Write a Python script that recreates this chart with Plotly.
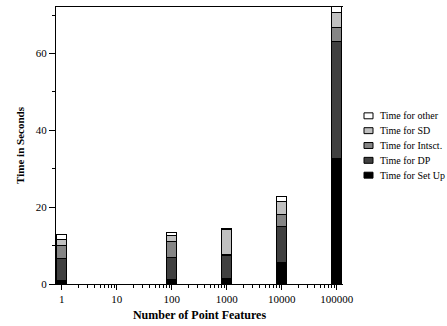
import numpy as np
import plotly.graph_objects as go

# ---- data ----
point_features = [1, 100, 1000, 10000, 100000]
time_setup = [1.0, 1.1, 1.5, 5.7, 32.7]
time_dp = [5.7, 5.8, 6.0, 9.2, 30.4]
time_intsct = [3.3, 4.2, 0.1, 3.2, 3.6]
time_sd = [1.5, 1.5, 6.6, 3.3, 4.0]
time_other = [1.5, 0.7, 0.2, 1.3, 1.5]

series_names = ["Time for Set Up", "Time for DP", "Time for Intsct.", "Time for SD", "Time for other"]
series_values = [time_setup, time_dp, time_intsct, time_sd, time_other]
series_colors = ["#000000", "#404040", "#858585", "#c0c0c0", "#ffffff"]

x_tick_vals = [0, 1, 2, 3, 4, 5]
x_tick_text = ["1", "10", "100", "1000", "10000", "100000"]
y_tick_vals = [0, 20, 40, 60]
y_minor_vals = [10, 30, 50, 70]

FONT = "Liberation Serif"

xpos = np.log10(point_features)

fig = go.Figure()
for name, vals, col in zip(series_names, series_values, series_colors):
    fig.add_trace(go.Bar(
        x=xpos, y=vals, name=name, width=0.182,
        marker=dict(color=col, line=dict(color="#000000", width=1)),
        showlegend=False,
    ))

minor_x = [k + np.log10(m) for k in range(0, 6) for m in range(2, 10) if k + np.log10(m) < 5.11]

W, H = 447, 326
ml, mr, mt, mb = 56, 104, 6, 40
pw, ph = W - ml - mr, H - mt - mb

fig.update_layout(
    width=W, height=H,
    margin=dict(l=ml, r=mr, t=mt, b=mb),
    barmode="stack",
    plot_bgcolor="white", paper_bgcolor="white",
    font=dict(family=FONT, size=11, color="#000"),
    xaxis=dict(
        range=[-0.104, 5.115],
        tickmode="array", tickvals=x_tick_vals, ticktext=x_tick_text,
        ticks="outside", ticklen=5, tickwidth=1, tickcolor="#000",
        showline=True, linecolor="#000", linewidth=1, mirror=True,
        showgrid=False, zeroline=False,
        minor=dict(tickmode="array", tickvals=minor_x, ticks="outside", ticklen=3,
                   tickwidth=1, tickcolor="#000", showgrid=False),
        title=dict(text="<b>Number of Point Features</b>", font=dict(size=12, family=FONT), standoff=6),
        tickfont=dict(size=11, family=FONT),
    ),
    yaxis=dict(
        range=[0, 72.1],
        tickmode="array", tickvals=y_tick_vals,
        ticks="outside", ticklen=6, tickwidth=1, tickcolor="#000",
        showline=True, linecolor="#000", linewidth=1,
        showgrid=False, zeroline=False,
        minor=dict(tickmode="array", tickvals=y_minor_vals, ticks="outside", ticklen=3,
                   tickwidth=1, tickcolor="#000", showgrid=False),
        title=dict(text="<b>Time in Seconds</b>", font=dict(size=11, family=FONT), standoff=8),
        tickfont=dict(size=11, family=FONT),
    ),
)

# custom legend (top to bottom: other ... Set Up)
row_y_px = 116
row_gap = 15
for i, (name, col) in enumerate(zip(series_names[::-1], series_colors[::-1])):
    ypx = row_y_px + i * row_gap
    yp = (H - mb - ypx) / ph
    h2 = 3 / ph
    fig.add_shape(type="rect", xref="paper", yref="paper",
                  x0=(364 - ml) / pw, x1=(373 - ml) / pw, y0=yp - h2, y1=yp + h2,
                  fillcolor=col, line=dict(color="#000", width=1))
    fig.add_annotation(xref="paper", yref="paper", x=(378 - ml) / pw, y=yp,
                       text=name, showarrow=False, xanchor="left", yanchor="middle",
                       font=dict(size=10, family=FONT, color="#000"))

fig.write_html("out.html")
